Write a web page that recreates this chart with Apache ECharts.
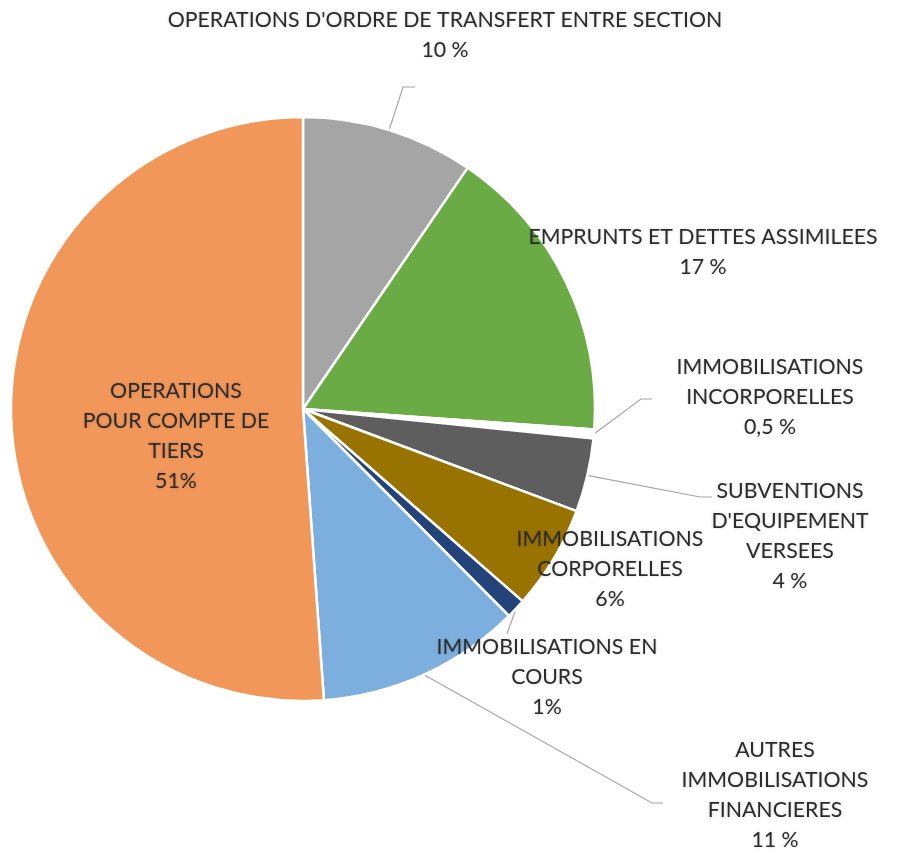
<!DOCTYPE html>
<html>
<head>
<meta charset="utf-8">
<script src="https://cdn.jsdelivr.net/npm/echarts@6/dist/echarts.min.js"></script>
<style>
  html, body { margin: 0; padding: 0; background: #ffffff; }
  #chart { width: 898px; height: 853px; }
</style>
</head>
<body>
<div id="chart"></div>
<script>
// slices, clockwise from 12 o'clock
const categories = [
    "OPERATIONS D'ORDRE DE TRANSFERT ENTRE SECTION",
    'EMPRUNTS ET DETTES ASSIMILEES',
    'IMMOBILISATIONS\nINCORPORELLES',
    "SUBVENTIONS\nD'EQUIPEMENT\nVERSEES",
    'IMMOBILISATIONS\nCORPORELLES',
    'IMMOBILISATIONS EN\nCOURS',
    'AUTRES\nIMMOBILISATIONS\nFINANCIERES',
    'OPERATIONS\nPOUR COMPTE DE\nTIERS'
]
const values = [9.6, 16.7, 0.5, 4.1, 5.8, 1.1, 11.4, 51.5]
const pctLabels = ['10 %', '17 %', '0,5 %', '4 %', '6%', '1%', '11 %', '51%']
const colors = ['#a5a5a5', '#6aab46', '#ffffff', '#5e5e5e', '#997300', '#24437a', '#7cafdd', '#f1975a']

// label placement (centre of each text block) and leader line bends
const labelSpots = [[445, 35], [703, 252], [770, 397], [790, 536], [610, 569], [547, 677], [775, 795], [176, 436]]
const leaderBends = [
    [[403, 87], [415, 87]],
    null,
    [[641, 399], [652, 399]],
    [[700, 497], [712, 497]],
    null,
    [[507, 634]],
    [[652, 803], [663, 803]],
    null
]

const chart = echarts.init(document.getElementById('chart'))

const pieData = values.map((v, i) => {
    const item = { name: categories[i], value: v, itemStyle: { color: colors[i] } }
    if (!leaderBends[i]) {
        item.labelLine = { show: false }
    }
    if (i === values.length - 1) {
        item.label = { position: 'inner' }
    }
    return item
})

chart.setOption({
    animation: false,
    backgroundColor: '#ffffff',
    series: [
        {
            type: 'pie',
            center: [303, 409],
            radius: 292,
            startAngle: 90,
            clockwise: true,
            avoidLabelOverlap: false,
            data: pieData,
            itemStyle: {
                borderColor: '#ffffff',
                borderWidth: 2.5
            },
            label: {
                show: true,
                position: 'outside',
                formatter: p => p.name + '\n' + pctLabels[p.dataIndex],
                fontFamily: 'Lato',
                fontSize: 21.3,
                lineHeight: 30,
                color: '#2b2b2b',
                align: 'center',
                textShadowColor: 'rgba(0,0,0,0.18)',
                textShadowBlur: 3
            },
            labelLine: {
                show: true,
                length: 20,
                length2: 10,
                lineStyle: { color: '#a6a6a6', width: 1.2 }
            },
            labelLayout: function (params) {
                const i = params.dataIndex
                const spot = labelSpots[i]
                const out = { x: spot[0], y: spot[1], align: 'center', verticalAlign: 'middle' }
                const bend = leaderBends[i]
                if (bend && params.labelLinePoints) {
                    out.labelLinePoints = [params.labelLinePoints[0]].concat(bend)
                }
                return out
            }
        }
    ]
})
</script>
</body>
</html>
